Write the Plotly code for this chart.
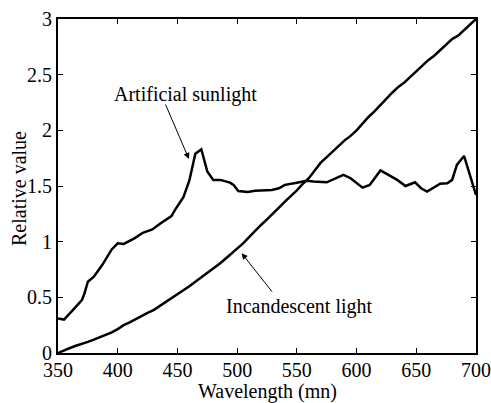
import plotly.graph_objects as go

# Incandescent light
inc_x = [350, 355, 360, 365, 370, 375, 380, 385, 390, 395, 400, 405, 410, 415, 420, 425,
         430, 435, 440, 445, 450, 455, 460, 465, 470, 475, 480, 485, 490, 495, 500, 505,
         510, 515, 520, 525, 530, 535, 540, 545, 550, 555, 560, 565, 570, 575, 580, 585,
         590, 595, 600, 605, 610, 615, 620, 625, 630, 635, 640, 645, 650, 655, 660, 665,
         670, 675, 680, 685, 690, 695, 700]
inc_y = [0.00, 0.025, 0.045, 0.065, 0.08, 0.10, 0.12, 0.14, 0.16, 0.185, 0.215, 0.25, 0.275,
         0.305, 0.33, 0.36, 0.385, 0.42, 0.455, 0.49, 0.525, 0.565, 0.60, 0.64, 0.68, 0.715,
         0.755, 0.80, 0.845, 0.89, 0.94, 0.985, 1.04, 1.10, 1.15, 1.20, 1.25, 1.305, 1.36,
         1.41, 1.46, 1.52, 1.57, 1.64, 1.71, 1.76, 1.81, 1.86, 1.91, 1.95, 2.00, 2.06, 2.12,
         2.17, 2.23, 2.28, 2.34, 2.39, 2.43, 2.48, 2.53, 2.58, 2.63, 2.67, 2.72, 2.77, 2.82,
         2.85, 2.90, 2.95, 3.00]

# Artificial sunlight
sun_x = [350, 355, 362, 370, 372, 375, 380, 387, 395, 400, 405, 414, 421, 429, 436, 445,
         448, 455, 460, 465, 470, 475, 480, 486, 494, 497, 501, 509, 515, 529, 535, 540,
         550, 558, 564, 575, 589, 595, 605, 611, 620, 628, 634, 641, 649, 654, 659, 670,
         676, 680, 684, 690, 700]
sun_y = [0.31, 0.30, 0.38, 0.476, 0.53, 0.64, 0.686, 0.79, 0.93, 0.985, 0.98, 1.03, 1.08,
         1.11, 1.165, 1.23, 1.285, 1.40, 1.55, 1.79, 1.83, 1.63, 1.555, 1.555, 1.53, 1.51,
         1.455, 1.447, 1.458, 1.465, 1.48, 1.51, 1.53, 1.548, 1.54, 1.533, 1.60, 1.57,
         1.485, 1.51, 1.64, 1.59, 1.555, 1.50, 1.533, 1.48, 1.45, 1.52, 1.525, 1.555, 1.69,
         1.77, 1.42]

x_ticks = [350, 400, 450, 500, 550, 600, 650, 700]
y_ticks = [0, 0.5, 1, 1.5, 2, 2.5, 3]
y_tick_text = ["0", "0.5", "1", "1.5", "2", "2.5", "3"]

FONT = "Liberation Serif"

fig = go.Figure()
fig.add_trace(go.Scatter(x=sun_x, y=sun_y, mode="lines",
                         line=dict(color="black", width=2.5), showlegend=False))
fig.add_trace(go.Scatter(x=inc_x, y=inc_y, mode="lines",
                         line=dict(color="black", width=2.5), showlegend=False))

fig.add_annotation(x=459.6, y=1.743, ax=-24, ay=-56, xref="x", yref="y",
                   text="", showarrow=True, arrowhead=2, arrowsize=1.2,
                   arrowwidth=1, arrowcolor="black")
fig.add_annotation(x=456.6, y=2.318, xref="x", yref="y", text="Artificial sunlight",
                   showarrow=False, font=dict(family=FONT, size=20, color="black"))
fig.add_annotation(x=503.8, y=0.896, ax=31.6, ay=40, xref="x", yref="y",
                   text="", showarrow=True, arrowhead=2, arrowsize=1.2,
                   arrowwidth=1, arrowcolor="black")
fig.add_annotation(x=551.4, y=0.422, xref="x", yref="y", text="Incandescent light",
                   showarrow=False, font=dict(family=FONT, size=20, color="black"))

# axis titles
fig.add_annotation(x=0.5, y=-0.1138, xref="paper", yref="paper", xanchor="center",
                   yanchor="middle", text="Wavelength (mn)", showarrow=False,
                   font=dict(family=FONT, size=20, color="black"))
fig.add_annotation(x=-0.0933, y=0.491, xref="paper", yref="paper", xanchor="center",
                   yanchor="middle", text="Relative value", textangle=-90,
                   showarrow=False, font=dict(family=FONT, size=20, color="black"))

fig.update_layout(
    width=491, height=403,
    margin=dict(l=58, r=15, t=19, b=50),
    paper_bgcolor="white", plot_bgcolor="white",
    font=dict(family=FONT, size=20, color="black"),
    xaxis=dict(range=[350, 700], tickvals=x_ticks, ticks="inside", ticklen=5,
               tickcolor="black", showline=True, linecolor="black", linewidth=1.8,
               mirror="ticks", showgrid=False, zeroline=False, ticklabelstandoff=-2,
               automargin=False),
    yaxis=dict(range=[0, 3], tickvals=y_ticks, ticktext=y_tick_text, ticks="inside",
               ticklen=5, tickcolor="black", showline=True, linecolor="black",
               linewidth=1.8, mirror="ticks", showgrid=False, zeroline=False,
               ticklabelstandoff=0, automargin=False),
)

fig.write_html("out.html")
